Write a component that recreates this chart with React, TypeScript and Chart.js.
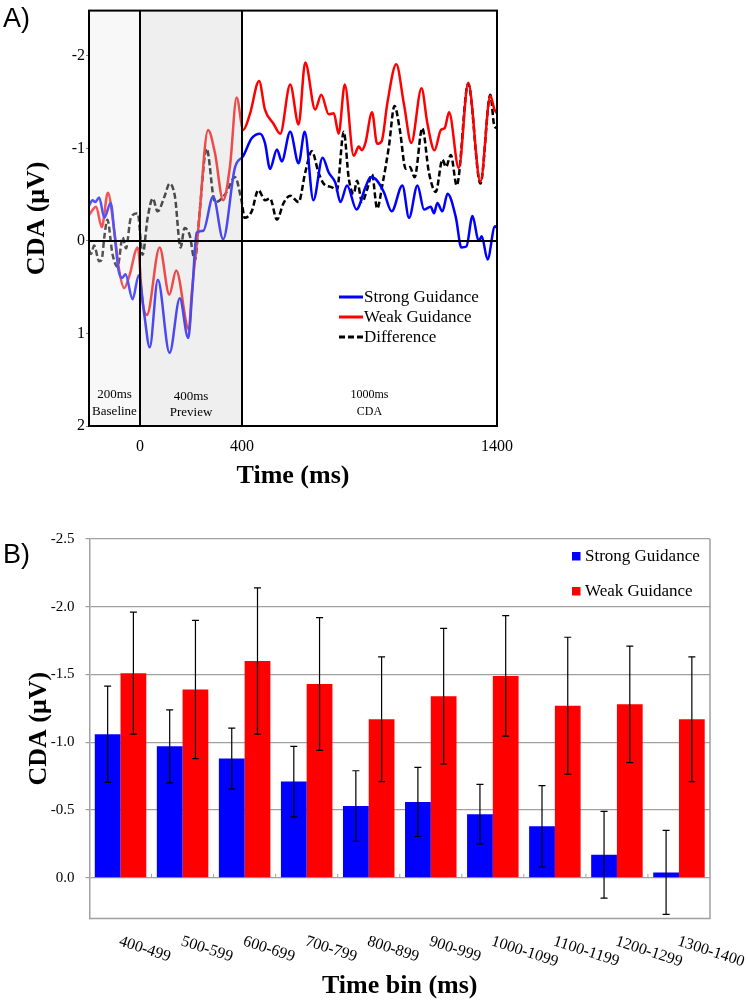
import React, { useEffect, useRef } from 'react';
import { Chart, registerables } from 'chart.js';

Chart.register(...registerables);

const SERIF = '"Liberation Serif", "Times New Roman", "DejaVu Serif", serif';
const SANS = '"Liberation Sans", Arial, sans-serif';

// ---------- Panel A: CDA waveforms (time in ms, amplitude in µV) ----------
const strongTimes = [-200, -186, -176, -160, -140, -115, -100, -84, -70, -57, -29, -5, 17, 38, 70, 116, 156, 189, 205, 222, 248, 287, 326, 372, 405, 438, 471, 490, 510, 537, 556, 589, 622, 646, 680, 716, 740, 766, 786, 812, 849, 884, 904, 924, 956, 987, 1029, 1055, 1088, 1114, 1140, 1153, 1166, 1186, 1206, 1239, 1260, 1280, 1304, 1328, 1340, 1363, 1392, 1400];
const strongValues = [-0.38, -0.44, -0.42, -0.47, -0.25, -0.41, -0.08, 0.32, 0.40, 0.36, 0.63, 0.37, 0.80, 1.15, 0.42, 1.21, 0.62, 1.05, 0.55, -0.09, -0.11, -0.48, -0.02, -0.79, -0.92, -1.11, -1.16, -1.06, -0.78, -0.99, -0.86, -1.18, -0.84, -1.18, -0.44, -0.90, -0.74, -0.63, -0.42, -0.60, -0.34, -0.58, -0.69, -0.67, -0.53, -0.32, -0.60, -0.25, -0.60, -0.34, -0.37, -0.30, -0.41, -0.32, -0.51, -0.25, 0.07, 0.06, -0.27, 0.0, -0.05, 0.20, -0.16, -0.14];

const weakTimes = [-200, -172, -150, -126, -101, -82, -62, -42, -9, 10, 27, 77, 115, 142, 192, 202, 228, 267, 294, 326, 353, 379, 405, 431, 467, 490, 523, 550, 589, 622, 648, 687, 711, 740, 760, 779, 803, 838, 858, 870, 884, 910, 930, 948, 970, 1005, 1035, 1064, 1104, 1127, 1155, 1180, 1195, 1212, 1250, 1287, 1335, 1374, 1390, 1400];
const weakValues = [-0.28, -0.37, -0.15, -0.52, -0.11, 0.31, 0.51, 0.38, 0.07, 0.66, 0.80, 0.07, 0.58, 0.32, 0.96, 0.59, -0.11, -1.20, -0.95, -0.44, -0.81, -1.55, -1.20, -1.37, -1.73, -1.42, -1.27, -1.16, -1.69, -1.26, -1.93, -1.42, -1.58, -1.37, -1.38, -1.16, -1.69, -0.92, -1.02, -0.98, -1.06, -1.39, -1.05, -1.08, -1.49, -1.91, -1.48, -1.06, -1.65, -1.27, -0.98, -1.20, -1.22, -1.39, -0.79, -1.71, -0.64, -1.57, -1.42, -1.38];

const diffTimes = [-200, -192, -180, -160, -150, -140, -128, -108, -88, -68, -55, -36, -9, 10, 30, 50, 69, 96, 116, 137, 159, 175, 195, 215, 235, 261, 294, 313, 340, 372, 399, 410, 438, 464, 491, 510, 537, 563, 589, 622, 648, 674, 700, 720, 753, 772, 799, 819, 838, 851, 871, 890, 910, 930, 950, 976, 998, 1019, 1042, 1058, 1077, 1107, 1133, 1160, 1186, 1200, 1219, 1242, 1287, 1335, 1374, 1389, 1400];
const diffValues = [0.10, 0.14, 0.05, 0.22, 0.20, -0.04, -0.23, 0.14, 0.28, -0.04, 0.08, -0.25, -0.30, 0.15, -0.25, -0.46, -0.32, -0.48, -0.62, -0.48, 0.07, -0.14, -0.06, 0.21, -0.35, -1.00, -0.42, -0.44, -0.53, -0.69, -0.42, -0.25, -0.32, -0.55, -0.44, -0.46, -0.23, -0.41, -0.49, -0.42, -0.74, -0.97, -0.74, -0.62, -0.58, -0.55, -1.18, -0.67, -0.51, -0.65, -0.42, -0.55, -0.72, -0.35, -0.60, -1.02, -1.46, -1.20, -0.78, -0.80, -0.69, -1.22, -0.74, -0.53, -0.88, -0.80, -0.93, -0.60, -1.70, -0.62, -1.58, -1.25, -1.22];

const waveXTicks = [0, 400, 1400];
const waveYTicks = [-2, -1, 0, 1, 2];
const waveLabels = ['Strong Guidance', 'Weak Guidance', 'Difference'];

// ---------- Panel B: mean CDA per time bin ----------
const timeBins = ['400-499', '500-599', '600-699', '700-799', '800-899', '900-999', '1000-1099', '1100-1199', '1200-1299', '1300-1400'];
const strongMeans = [-1.06, -0.97, -0.88, -0.71, -0.53, -0.56, -0.47, -0.38, -0.17, -0.04];
const strongErrors = [0.355, 0.27, 0.225, 0.26, 0.26, 0.255, 0.22, 0.30, 0.32, 0.31];
const weakMeans = [-1.51, -1.39, -1.60, -1.43, -1.17, -1.34, -1.49, -1.27, -1.28, -1.17];
const weakErrors = [0.45, 0.51, 0.54, 0.49, 0.46, 0.50, 0.445, 0.505, 0.43, 0.46];
const barYTicks = [-2.5, -2.0, -1.5, -1.0, -0.5, 0.0];

const BLUE = '#0000ff';
const RED = '#ff0000';

const toPoints = (ts: number[], vs: number[]) => ts.map((t, i) => ({ x: t, y: vs[i] }));

const wavePlugin = {
  id: 'waveDecor',
  afterDatasetsDraw(chart: any) {
    const { ctx, chartArea, scales } = chart;
    const { left, right, top, bottom } = chartArea;
    const xs = scales.x;
    const ys = scales.y;
    const x0 = xs.getPixelForValue(0);
    const x400 = xs.getPixelForValue(400);
    ctx.save();
    // shaded epochs (drawn over the traces, as in the original)
    ctx.fillStyle = 'rgba(235,235,235,0.35)';
    ctx.fillRect(left, top, x0 - left, bottom - top);
    ctx.fillStyle = 'rgba(209,209,209,0.35)';
    ctx.fillRect(x0, top, x400 - x0, bottom - top);
    // reference lines
    ctx.strokeStyle = '#000';
    ctx.lineWidth = 2;
    ctx.beginPath();
    const yz = ys.getPixelForValue(0);
    ctx.moveTo(left, yz);
    ctx.lineTo(right, yz);
    ctx.moveTo(x0, top);
    ctx.lineTo(x0, bottom);
    ctx.moveTo(x400, top);
    ctx.lineTo(x400, bottom);
    ctx.stroke();
    ctx.strokeRect(left, top, right - left, bottom - top);
    // epoch annotations
    ctx.fillStyle = '#000';
    ctx.textAlign = 'center';
    ctx.textBaseline = 'middle';
    ctx.font = `13px ${SERIF}`;
    const xb = xs.getPixelForValue(-100);
    const xp = xs.getPixelForValue(200);
    ctx.fillText('200ms', xb, bottom - 31);
    ctx.fillText('Baseline', xb, bottom - 14.5);
    ctx.fillText('400ms', xp, bottom - 29.5);
    ctx.fillText('Preview', xp, bottom - 13.5);
    ctx.font = `12px ${SERIF}`;
    const xc = xs.getPixelForValue(900);
    ctx.fillText('1000ms', xc, bottom - 31);
    ctx.fillText('CDA', xc, bottom - 14.5);
    // legend
    const lx = 339;
    const rows = [297, 317, 337];
    chart.data.datasets.forEach((ds: any, i: number) => {
      ctx.beginPath();
      ctx.strokeStyle = ds.borderColor;
      ctx.lineWidth = 3;
      ctx.setLineDash(ds.borderDash || []);
      ctx.moveTo(lx, rows[i]);
      ctx.lineTo(lx + 24, rows[i]);
      ctx.stroke();
      ctx.setLineDash([]);
      ctx.fillStyle = '#000';
      ctx.textAlign = 'left';
      ctx.font = `17px ${SERIF}`;
      ctx.fillText(ds.label, lx + 25, rows[i] + 0.5);
    });
    // panel letter
    ctx.font = `27px ${SANS}`;
    ctx.textBaseline = 'alphabetic';
    ctx.fillText('A)', 3, 26.5);
    ctx.restore();
  },
};

const barPlugin = {
  id: 'barDecor',
  afterDatasetsDraw(chart: any) {
    const { ctx, chartArea, scales } = chart;
    const { left, right, top, bottom } = chartArea;
    const xs = scales.x;
    const ys = scales.y;
    ctx.save();
    // frame (right and bottom)
    ctx.strokeStyle = '#a0a0a0';
    ctx.lineWidth = 1.5;
    ctx.beginPath();
    ctx.moveTo(right, top);
    ctx.lineTo(right, bottom);
    ctx.lineTo(left, bottom);
    ctx.stroke();
    // category tick marks on the zero line
    const yz = ys.getPixelForValue(0);
    const step = (right - left) / timeBins.length;
    ctx.lineWidth = 1;
    ctx.beginPath();
    for (let i = 1; i < timeBins.length; i++) {
      const xx = left + i * step;
      ctx.moveTo(xx, yz - 4);
      ctx.lineTo(xx, yz);
    }
    ctx.stroke();
    // error bars
    const errs = [strongErrors, weakErrors];
    ctx.strokeStyle = '#000';
    ctx.lineWidth = 1.2;
    chart.data.datasets.forEach((ds: any, d: number) => {
      const meta = chart.getDatasetMeta(d);
      meta.data.forEach((bar: any, i: number) => {
        const m = ds.data[i];
        const e = errs[d][i];
        const y1 = ys.getPixelForValue(m - e);
        const y2 = ys.getPixelForValue(m + e);
        ctx.beginPath();
        ctx.moveTo(bar.x, y1);
        ctx.lineTo(bar.x, y2);
        ctx.moveTo(bar.x - 3.5, y1);
        ctx.lineTo(bar.x + 3.5, y1);
        ctx.moveTo(bar.x - 3.5, y2);
        ctx.lineTo(bar.x + 3.5, y2);
        ctx.stroke();
      });
    });
    // rotated category labels
    ctx.fillStyle = '#000';
    ctx.font = `16px ${SERIF}`;
    ctx.textAlign = 'left';
    ctx.textBaseline = 'middle';
    timeBins.forEach((lab, i) => {
      const cx = xs.getPixelForValue(i);
      ctx.save();
      ctx.translate(cx - 1, bottom + 22.5);
      ctx.rotate((18 * Math.PI) / 180);
      ctx.fillText(lab, 0, 0);
      ctx.restore();
    });
    // legend
    ctx.font = `17px ${SERIF}`;
    const rows = [56, 91];
    chart.data.datasets.forEach((ds: any, i: number) => {
      ctx.fillStyle = ds.backgroundColor;
      ctx.fillRect(572, rows[i] - 4, 8.5, 8.5);
      ctx.fillStyle = '#000';
      ctx.fillText(ds.label, 585, rows[i] + 0.5);
    });
    // panel letter
    ctx.font = `27px ${SANS}`;
    ctx.textBaseline = 'alphabetic';
    ctx.fillText('B)', 3, 63);
    ctx.restore();
  },
};

export default function App() {
  const refA = useRef<HTMLCanvasElement>(null);
  const refB = useRef<HTMLCanvasElement>(null);

  useEffect(() => {
    const chartA = new Chart(refA.current as HTMLCanvasElement, {
      type: 'line',
      data: {
        datasets: [
          { label: waveLabels[0], data: toPoints(strongTimes, strongValues), borderColor: BLUE, borderWidth: 2.5, pointRadius: 0, cubicInterpolationMode: 'monotone', fill: false },
          { label: waveLabels[1], data: toPoints(weakTimes, weakValues), borderColor: RED, borderWidth: 2.5, pointRadius: 0, cubicInterpolationMode: 'monotone', fill: false },
          { label: waveLabels[2], data: toPoints(diffTimes, diffValues), borderColor: '#000000', borderWidth: 2.5, borderDash: [6, 3], pointRadius: 0, cubicInterpolationMode: 'monotone', fill: false },
        ],
      } as any,
      options: {
        animation: false,
        responsive: false,
        maintainAspectRatio: false,
        layout: { padding: { top: 5, right: 251, left: 0, bottom: 0 } },
        plugins: { legend: { display: false }, tooltip: { enabled: false } },
        scales: {
          x: {
            type: 'linear',
            min: -200,
            max: 1400,
            afterBuildTicks: (s: any) => { s.ticks = waveXTicks.map((v) => ({ value: v })); },
            afterFit: (s: any) => { s.height = 74; },
            grid: { display: false, drawTicks: false },
            border: { display: false },
            ticks: { font: { family: SERIF, size: 16 }, color: '#000', padding: 11, maxRotation: 0, callback: (v: any) => String(v) },
            title: { display: true, text: 'Time (ms)', font: { family: SERIF, size: 26, weight: 'bold' }, color: '#000', padding: { top: 0, bottom: 8 } },
          },
          y: {
            type: 'linear',
            reverse: true,
            min: -2.49,
            max: 2,
            afterBuildTicks: (s: any) => { s.ticks = waveYTicks.map((v) => ({ value: v })); },
            afterFit: (s: any) => { s.width = 89; },
            grid: { display: true, drawOnChartArea: false, drawTicks: true, tickLength: 3, color: '#888' },
            border: { display: false },
            ticks: { font: { family: SERIF, size: 16 }, color: '#000', padding: 1, callback: (v: any) => String(v) },
            title: { display: true, text: 'CDA (μV)', font: { family: SERIF, size: 26, weight: 'bold' }, color: '#000', padding: { top: 22, bottom: 0 } },
          },
        },
      } as any,
      plugins: [wavePlugin],
    });

    const chartB = new Chart(refB.current as HTMLCanvasElement, {
      type: 'bar',
      data: {
        labels: timeBins,
        datasets: [
          { label: 'Strong Guidance', data: strongMeans, backgroundColor: BLUE, borderWidth: 0 },
          { label: 'Weak Guidance', data: weakMeans, backgroundColor: RED, borderWidth: 0 },
        ],
      },
      options: {
        animation: false,
        responsive: false,
        maintainAspectRatio: false,
        layout: { padding: { top: 39, right: 38, left: 0, bottom: 0 } },
        datasets: { bar: { categoryPercentage: 0.83, barPercentage: 1 } },
        plugins: { legend: { display: false }, tooltip: { enabled: false } },
        scales: {
          x: {
            afterFit: (s: any) => { s.height = 87.5; },
            grid: { display: false, drawTicks: false },
            border: { display: false },
            ticks: { display: false },
            title: { display: true, text: 'Time bin (ms)', font: { family: SERIF, size: 26, weight: 'bold' }, color: '#000', padding: { top: 0, bottom: 4 } },
          },
          y: {
            type: 'linear',
            reverse: true,
            min: -2.5,
            max: 0.3,
            afterBuildTicks: (s: any) => { s.ticks = barYTicks.map((v) => ({ value: v })); },
            afterFit: (s: any) => { s.width = 89.5; },
            grid: { color: '#a0a0a0', lineWidth: 1.2, tickLength: 4 },
            border: { display: true, color: '#a0a0a0', width: 1.5 },
            ticks: { font: { family: SERIF, size: 15 }, color: '#000', padding: 11, callback: (v: any) => Number(v).toFixed(1) },
            title: { display: true, text: 'CDA (μV)', font: { family: SERIF, size: 26, weight: 'bold' }, color: '#000', padding: { top: 24, bottom: 0 } },
          },
        },
      } as any,
      plugins: [barPlugin],
    });

    return () => {
      chartA.destroy();
      chartB.destroy();
    };
  }, []);

  return (
    <div style={{ position: 'absolute', left: 0, top: 0, width: 748, height: 1006, overflow: 'hidden', background: '#fff' }}>
      <canvas ref={refA} width={748} height={500} style={{ position: 'absolute', left: 0, top: 0, width: 748, height: 500 }} />
      <canvas ref={refB} width={748} height={506} style={{ position: 'absolute', left: 0, top: 500, width: 748, height: 506 }} />
    </div>
  );
}
